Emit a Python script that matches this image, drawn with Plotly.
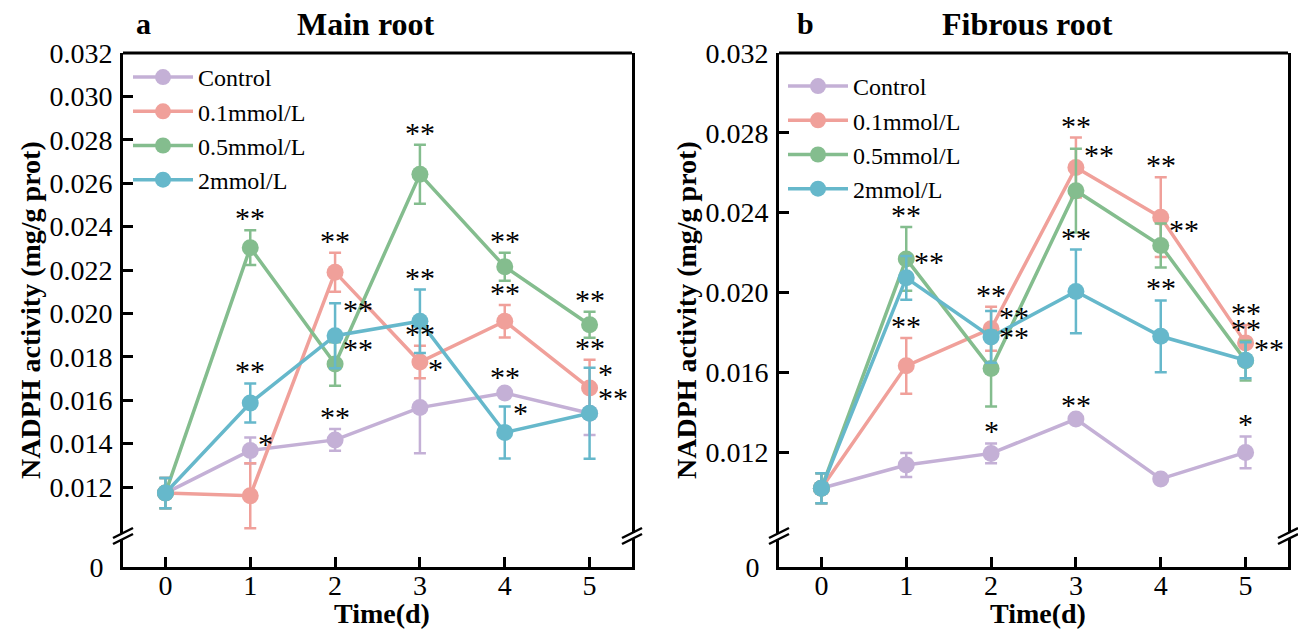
import plotly.graph_objects as go

# ---------------- data ----------------
DAYS = [0, 1, 2, 3, 4, 5]
SERIES = ["Control", "0.1mmol/L", "0.5mmol/L", "2mmol/L"]
COLORS = ["#C4B0D6", "#F0A09A", "#84BD8E", "#66B8CB"]

# Main root (panel a)
MAIN_CONTROL = [0.01172, 0.01368, 0.01417, 0.01566, 0.01633, 0.01540]
MAIN_CONTROL_ERR = [0.0007, 0.0006, 0.0005, 0.0021, 0.0002, 0.0010]
MAIN_01 = [0.01172, 0.01160, 0.02190, 0.01776, 0.01964, 0.01656]
MAIN_01_ERR = [0.0007, 0.0015, 0.0009, 0.00075, 0.00075, 0.0013]
MAIN_05 = [0.01172, 0.02303, 0.01767, 0.02641, 0.02215, 0.01948]
MAIN_05_ERR = [0.0007, 0.0008, 0.0010, 0.00136, 0.00065, 0.0006]
MAIN_2 = [0.01172, 0.01587, 0.01897, 0.01964, 0.01451, 0.01540]
MAIN_2_ERR = [0.0007, 0.0009, 0.0015, 0.00146, 0.0012, 0.0021]

# Fibrous root (panel b)
FIB_CONTROL = [0.01018, 0.01135, 0.01193, 0.01365, 0.01065, 0.01198]
FIB_CONTROL_ERR = [0.00075, 0.0006, 0.0005, 0.0001, 0.0001, 0.0008]
FIB_01 = [0.01018, 0.01632, 0.01818, 0.02626, 0.02377, 0.01747]
FIB_01_ERR = [0.00075, 0.0014, 0.0011, 0.0015, 0.0020, 0.0009]
FIB_05 = [0.01018, 0.02168, 0.01618, 0.02510, 0.02235, 0.01658]
FIB_05_ERR = [0.00075, 0.0016, 0.0019, 0.0021, 0.0011, 0.0010]
FIB_2 = [0.01018, 0.02073, 0.01777, 0.02005, 0.01780, 0.01660]
FIB_2_ERR = [0.00075, 0.0011, 0.0013, 0.0021, 0.0018, 0.0009]

# significance marks: (day, series index, text, placement)
MAIN_STARS = [
    (1, 2, "**", "top"), (1, 3, "**", "top"), (1, 0, "*", "right"),
    (2, 1, "**", "top"), (2, 3, "**", "right"), (2, 2, "**", "right"), (2, 0, "**", "top"),
    (3, 2, "**", "top"), (3, 3, "**", "top"), (3, 1, "**", "top"), (3, 0, "*", "right"),
    (4, 2, "**", "top"), (4, 1, "**", "top"), (4, 0, "**", "top"), (4, 3, "*", "right"),
    (5, 2, "**", "top"), (5, 1, "**", "top"), (5, 3, "*", "right"), (5, 0, "**", "right"),
]
FIB_STARS = [
    (1, 2, "**", "top"), (1, 3, "**", "right"), (1, 1, "**", "top"),
    (2, 1, "**", "top"), (2, 3, "**", "right"), (2, 2, "**", "right"), (2, 0, "*", "top"),
    (3, 1, "**", "top"), (3, 2, "**", "right"), (3, 3, "**", "top"), (3, 0, "**", "top"),
    (4, 1, "**", "top"), (4, 2, "**", "right"), (4, 3, "**", "top"),
    (5, 1, "**", "top"), (5, 2, "**", "top"), (5, 3, "**", "right"), (5, 0, "*", "top"),
]

MAIN_TICKS = [0.012, 0.014, 0.016, 0.018, 0.020, 0.022, 0.024, 0.026, 0.028, 0.030, 0.032]
FIB_TICKS = [0.012, 0.016, 0.020, 0.024, 0.028, 0.032]

# ---------------- layout geometry ----------------
OFF = 8                      # default page margin of the written html
W, H = 1306 - OFF, 633 - OFF
FONT = "Liberation Serif"


def fx(px):
    return (px - OFF) / W


def fy(py):
    return 1 - (py - OFF) / H


TOP, BOTTOM, UP_BOTTOM, LOW_TOP = 53, 567, 533, 539
PANELS = [
    dict(x0=123, x1=632, yr=[0.00988, 0.032], ticks=MAIN_TICKS,
         data=[(MAIN_CONTROL, MAIN_CONTROL_ERR), (MAIN_01, MAIN_01_ERR),
               (MAIN_05, MAIN_05_ERR), (MAIN_2, MAIN_2_ERR)],
         stars=MAIN_STARS, letter="a", title="Main root", letter_x=143, title_x=366,
         ytitle_x=30, xtitle_x=382, legend_xy=(128, 55)),
    dict(x0=779, x1=1288, yr=[0.00794, 0.032], ticks=FIB_TICKS,
         data=[(FIB_CONTROL, FIB_CONTROL_ERR), (FIB_01, FIB_01_ERR),
               (FIB_05, FIB_05_ERR), (FIB_2, FIB_2_ERR)],
         stars=FIB_STARS, letter="b", title="Fibrous root", letter_x=805, title_x=1028,
         ytitle_x=686, xtitle_x=1038, legend_xy=(783, 64)),
]

TICKFONT = dict(family=FONT, size=28, color="black")

fig = go.Figure()
layout = dict(
    template="none",
    width=W, height=H, margin=dict(l=0, r=0, t=0, b=0, pad=0, autoexpand=False),
    paper_bgcolor="white", plot_bgcolor="white",
    font=dict(family=FONT, size=28, color="black"),
    annotations=[], shapes=[],
)

for p_i, P in enumerate(PANELS):
    xa = "x" if p_i == 0 else "x2"
    ya_up = "y" if p_i == 0 else "y3"
    ya_lo = "y2" if p_i == 0 else "y4"
    lg = "legend" if p_i == 0 else "legend2"
    xkey = "xaxis" if p_i == 0 else "xaxis2"
    yup_key = "yaxis" if p_i == 0 else "yaxis3"
    ylo_key = "yaxis2" if p_i == 0 else "yaxis4"

    for s_i, (vals, errs) in enumerate(P["data"]):
        fig.add_trace(go.Scatter(
            x=DAYS, y=vals, name=SERIES[s_i], mode="lines+markers",
            xaxis=xa, yaxis=ya_up, legend=lg,
            line=dict(color=COLORS[s_i], width=3.5),
            marker=dict(color=COLORS[s_i], size=17, line=dict(width=0)),
            error_y=dict(type="data", array=errs, visible=True,
                         color=COLORS[s_i], thickness=2.5, width=6),
        ))
    # empty trace so that the lower (broken) axis segment forms a real subplot
    fig.add_trace(go.Scatter(x=[None], y=[None], xaxis=xa, yaxis=ya_lo,
                             showlegend=False, hoverinfo="skip", mode="markers"))

    xdom = [fx(P["x0"]), fx(P["x1"])]
    layout[xkey] = dict(
        domain=xdom, anchor=ya_lo, range=[-0.5, 5.5], automargin=False,
        tickmode="array", tickvals=DAYS, ticktext=[str(d) for d in DAYS],
        ticks="inside", ticklen=10, tickwidth=3, tickcolor="black",
        showline=True, linewidth=3, linecolor="black",
        showgrid=False, zeroline=False, tickfont=TICKFONT,
        ticklabelstandoff=-9,
    )
    layout[yup_key] = dict(
        domain=[fy(UP_BOTTOM), fy(TOP)], anchor=xa, range=P["yr"], automargin=False,
        tickmode="array", tickvals=P["ticks"],
        ticktext=[f"{t:.3f}" for t in P["ticks"]],
        ticks="inside", ticklen=10, tickwidth=3, tickcolor="black",
        showline=True, linewidth=3, linecolor="black", mirror=True,
        showgrid=False, zeroline=False, tickfont=TICKFONT,
        ticklabelstandoff=2,
    )
    layout[ylo_key] = dict(
        domain=[fy(BOTTOM), fy(LOW_TOP)], anchor=xa, range=[0, 1], automargin=False,
        tickmode="array", tickvals=[0], ticktext=["0"], ticks="",
        showline=True, linewidth=3, linecolor="black", mirror=True,
        showgrid=False, zeroline=False, tickfont=TICKFONT,
        ticklabelstandoff=11,
    )

    # top frame line
    layout["shapes"].append(dict(
        type="line", xref="paper", yref="paper",
        x0=fx(P["x0"]), x1=fx(P["x1"]), y0=fy(TOP), y1=fy(TOP),
        line=dict(color="black", width=3)))
    # axis-break marks on both sides
    for xb in (P["x0"], P["x1"]):
        for yb in (UP_BOTTOM, LOW_TOP):
            layout["shapes"].append(dict(
                type="line", xref="paper", yref="paper",
                x0=fx(xb - 10), y0=fy(yb + 5), x1=fx(xb + 10), y1=fy(yb - 5),
                line=dict(color="black", width=2.5)))

    # significance stars
    for day, s_i, txt, where in P["stars"]:
        vals, errs = P["data"][s_i]
        yv = vals[day] + errs[day]
        if where == "top":
            layout["annotations"].append(dict(
                x=day, y=yv, xref=xa, yref=ya_up, text=txt, showarrow=False,
                xanchor="center", yanchor="bottom", yshift=-6,
                font=dict(size=30, family=FONT)))
        else:
            layout["annotations"].append(dict(
                x=day, y=yv, xref=xa, yref=ya_up, text=txt, showarrow=False,
                xanchor="left", yanchor="middle", xshift=6, yshift=-6,
                font=dict(size=30, family=FONT)))

    # panel letter and title
    layout["annotations"].append(dict(
        x=fx(P["letter_x"]), y=fy(23), xref="paper", yref="paper",
        text=f"<b>{P['letter']}</b>", showarrow=False, borderpad=0,
        xanchor="center", yanchor="middle", font=dict(size=30, family=FONT)))
    layout["annotations"].append(dict(
        x=fx(P["title_x"]), y=fy(24), xref="paper", yref="paper",
        text=f"<b>{P['title']}</b>", showarrow=False, borderpad=0,
        xanchor="center", yanchor="middle", font=dict(size=32, family=FONT)))
    # axis titles
    layout["annotations"].append(dict(
        x=fx(P["ytitle_x"]), y=fy(310), xref="paper", yref="paper",
        text="<b>NADPH activity (mg/g prot)</b>", showarrow=False, textangle=-90,
        xanchor="center", yanchor="middle", font=dict(size=28, family=FONT)))
    layout["annotations"].append(dict(
        x=fx(P["xtitle_x"]), y=fy(613), xref="paper", yref="paper",
        text="<b>Time(d)</b>", showarrow=False,
        xanchor="center", yanchor="middle", font=dict(size=28, family=FONT)))

    lx, ly = P["legend_xy"]
    layout[lg] = dict(
        x=fx(lx), y=fy(ly), xref="paper", yref="paper",
        xanchor="left", yanchor="top", bgcolor="rgba(0,0,0,0)",
        font=dict(size=24, family=FONT), itemwidth=60,
        tracegroupgap=0,
    )

fig.update_layout(**layout)
fig.write_html("out.html")
